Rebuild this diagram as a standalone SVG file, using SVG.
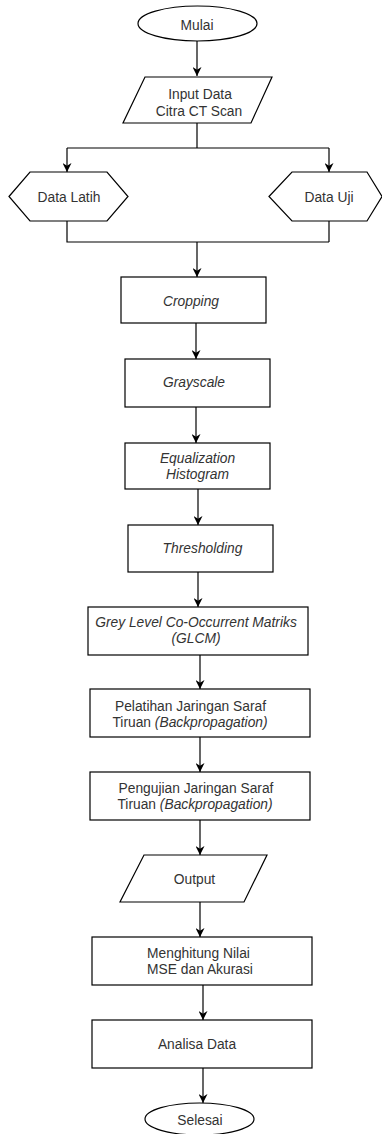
<svg xmlns="http://www.w3.org/2000/svg" width="382" height="1134" viewBox="0 0 382 1134">
<style>
.s{fill:#fff;stroke:#000;stroke-width:1.2}
.c{fill:none;stroke:#000;stroke-width:1.2}
text{font-family:"Liberation Sans",Arial,sans-serif;font-size:13.8px;fill:#333;text-anchor:middle}
.i{font-style:italic}
</style>
<defs>
<marker id="a" viewBox="0 0 10 10" refX="10" refY="5" markerWidth="9" markerHeight="9" markerUnits="userSpaceOnUse" orient="auto">
<path d="M0,0 L10,5 L0,10 L3,5 z" fill="#000"/>
</marker>
</defs>
<rect width="382" height="1134" fill="#fff"/>
<g id="connectors">
<path class="c" d="M197,41 V76" marker-end="url(#a)"/>
<path class="c" d="M197,123 V148 M67,148 H329"/>
<path class="c" d="M67,148 V172" marker-end="url(#a)"/>
<path class="c" d="M329,148 V172" marker-end="url(#a)"/>
<path class="c" d="M67,221 V242 H329 M329,221 V242"/>
<path class="c" d="M197,242 V277" marker-end="url(#a)"/>
<path class="c" d="M196,323 V359" marker-end="url(#a)"/>
<path class="c" d="M196,407 V443" marker-end="url(#a)"/>
<path class="c" d="M198,489 V525" marker-end="url(#a)"/>
<path class="c" d="M198,572 V607" marker-end="url(#a)"/>
<path class="c" d="M200,655 V689" marker-end="url(#a)"/>
<path class="c" d="M200,737 V772" marker-end="url(#a)"/>
<path class="c" d="M200,820 V855" marker-end="url(#a)"/>
<path class="c" d="M200,902 V937" marker-end="url(#a)"/>
<path class="c" d="M203,985 V1020" marker-end="url(#a)"/>
<path class="c" d="M203,1068 V1103" marker-end="url(#a)"/>
</g>
<g id="mulai">
<ellipse class="s" cx="197.5" cy="23.5" rx="59.5" ry="17.5"/>
<text x="197" y="29.5">Mulai</text>
</g>
<g id="input">
<polygon class="s" points="145,77 272,77 251,123 123,123"/>
<text x="200" y="99">Input Data</text>
<text x="199" y="115.5">Citra CT Scan</text>
</g>
<g id="latih">
<polygon class="s" points="9,196.5 30,172 107,172 128,196.5 107,221 30,221"/>
<text x="69" y="201.5">Data Latih</text>
</g>
<g id="uji">
<polygon class="s" points="269,196.5 292,172 367,172 382,196.5 367,221 292,221"/>
<text x="329" y="201.5">Data Uji</text>
</g>
<g id="cropping">
<rect class="s" x="121" y="277" width="145" height="46"/>
<text class="i" x="191" y="306">Cropping</text>
</g>
<g id="grayscale">
<rect class="s" x="125" y="359" width="145" height="48"/>
<text class="i" x="194" y="387">Grayscale</text>
</g>
<g id="equalization">
<rect class="s" x="125" y="443" width="145" height="46"/>
<text class="i" x="197.5" y="463">Equalization</text>
<text class="i" x="197.5" y="479">Histogram</text>
</g>
<g id="thresholding">
<rect class="s" x="128" y="525" width="145" height="47"/>
<text class="i" x="202.5" y="553">Thresholding</text>
</g>
<g id="glcm">
<rect class="s" x="88" y="607" width="220" height="48"/>
<text class="i" x="196" y="627">Grey Level Co-Occurrent Matriks</text>
<text class="i" x="196" y="643">(GLCM)</text>
</g>
<g id="pelatihan">
<rect class="s" x="90" y="689" width="220" height="48"/>
<text x="190.5" y="711">Pelatihan Jaringan Saraf</text>
<text x="190" y="727">Tiruan <tspan class="i">(Backpropagation)</tspan></text>
</g>
<g id="pengujian">
<rect class="s" x="90" y="772" width="220" height="48"/>
<text x="196" y="793">Pengujian Jaringan Saraf</text>
<text x="195" y="809">Tiruan <tspan class="i">(Backpropagation)</tspan></text>
</g>
<g id="output">
<polygon class="s" points="144,855 267,855 244,902 120,902"/>
<text x="194.5" y="884">Output</text>
</g>
<g id="mse">
<rect class="s" x="92" y="937" width="220" height="48"/>
<text x="198.5" y="958">Menghitung Nilai</text>
<text x="200" y="974">MSE dan Akurasi</text>
</g>
<g id="analisa">
<rect class="s" x="92" y="1020" width="220" height="48"/>
<text x="197" y="1049">Analisa Data</text>
</g>
<g id="selesai">
<ellipse class="s" cx="199.5" cy="1119" rx="54.5" ry="16"/>
<text x="200" y="1124.5">Selesai</text>
</g>
</svg>
